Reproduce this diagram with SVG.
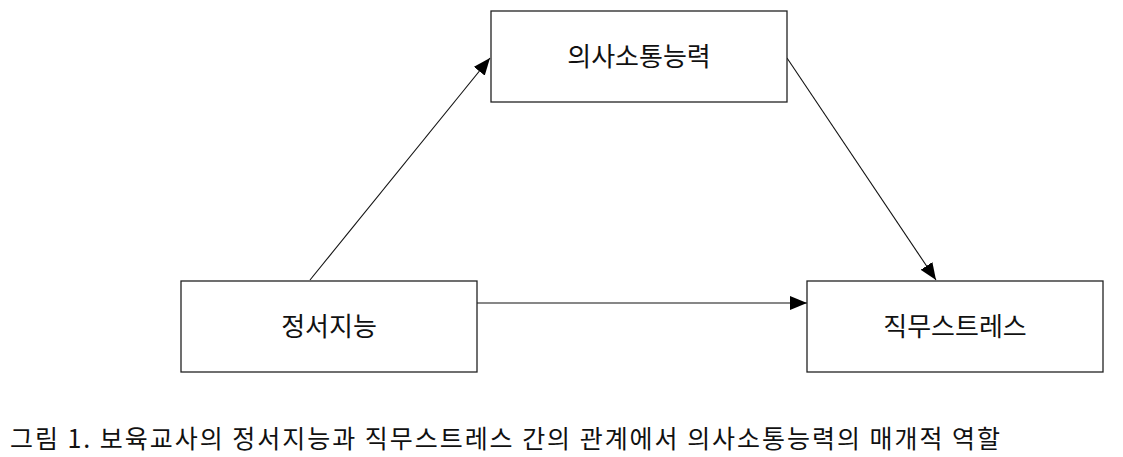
<svg xmlns="http://www.w3.org/2000/svg" width="1123" height="457" viewBox="0 0 1123 457">
<style>
.box{fill:#fff;stroke:#222;stroke-width:1.3}
.lbl{font-family:"Noto Sans CJK KR","Noto Sans",sans-serif;font-size:26px;fill:#111;text-anchor:middle}
.cap{font-family:"Noto Sans CJK KR","Noto Sans",sans-serif;font-size:25px;fill:#111}
.edge{stroke:#111;stroke-width:1.1;fill:none;marker-end:url(#ah)}
</style>
<defs>
<marker id="ah" markerUnits="userSpaceOnUse" markerWidth="18" markerHeight="14" refX="17" refY="7" orient="auto">
<path d="M0,0 L17,7 L0,14 Z" fill="#000"/>
</marker>
</defs>
<rect width="1123" height="457" fill="#fff"/>
<g id="connectors">
<line class="edge" x1="310" y1="280" x2="490" y2="58"/>
<line class="edge" x1="787" y1="58" x2="936" y2="280"/>
<line class="edge" x1="477" y1="303" x2="807" y2="303"/>
</g>
<g id="node-communication">
<rect class="box" x="491" y="11" width="296" height="91"/>
<text class="lbl" x="639" y="66">의사소통능력</text>
</g>
<g id="node-emotional">
<rect class="box" x="181" y="281" width="296" height="91"/>
<text class="lbl" x="329" y="336">정서지능</text>
</g>
<g id="node-stress">
<rect class="box" x="807" y="281" width="296" height="91"/>
<text class="lbl" x="955" y="336">직무스트레스</text>
</g>
<g id="caption">
<text class="cap" x="10" y="448" textLength="990" lengthAdjust="spacing">그림 1. 보육교사의 정서지능과 직무스트레스 간의 관계에서 의사소통능력의 매개적 역할</text>
</g>
</svg>
